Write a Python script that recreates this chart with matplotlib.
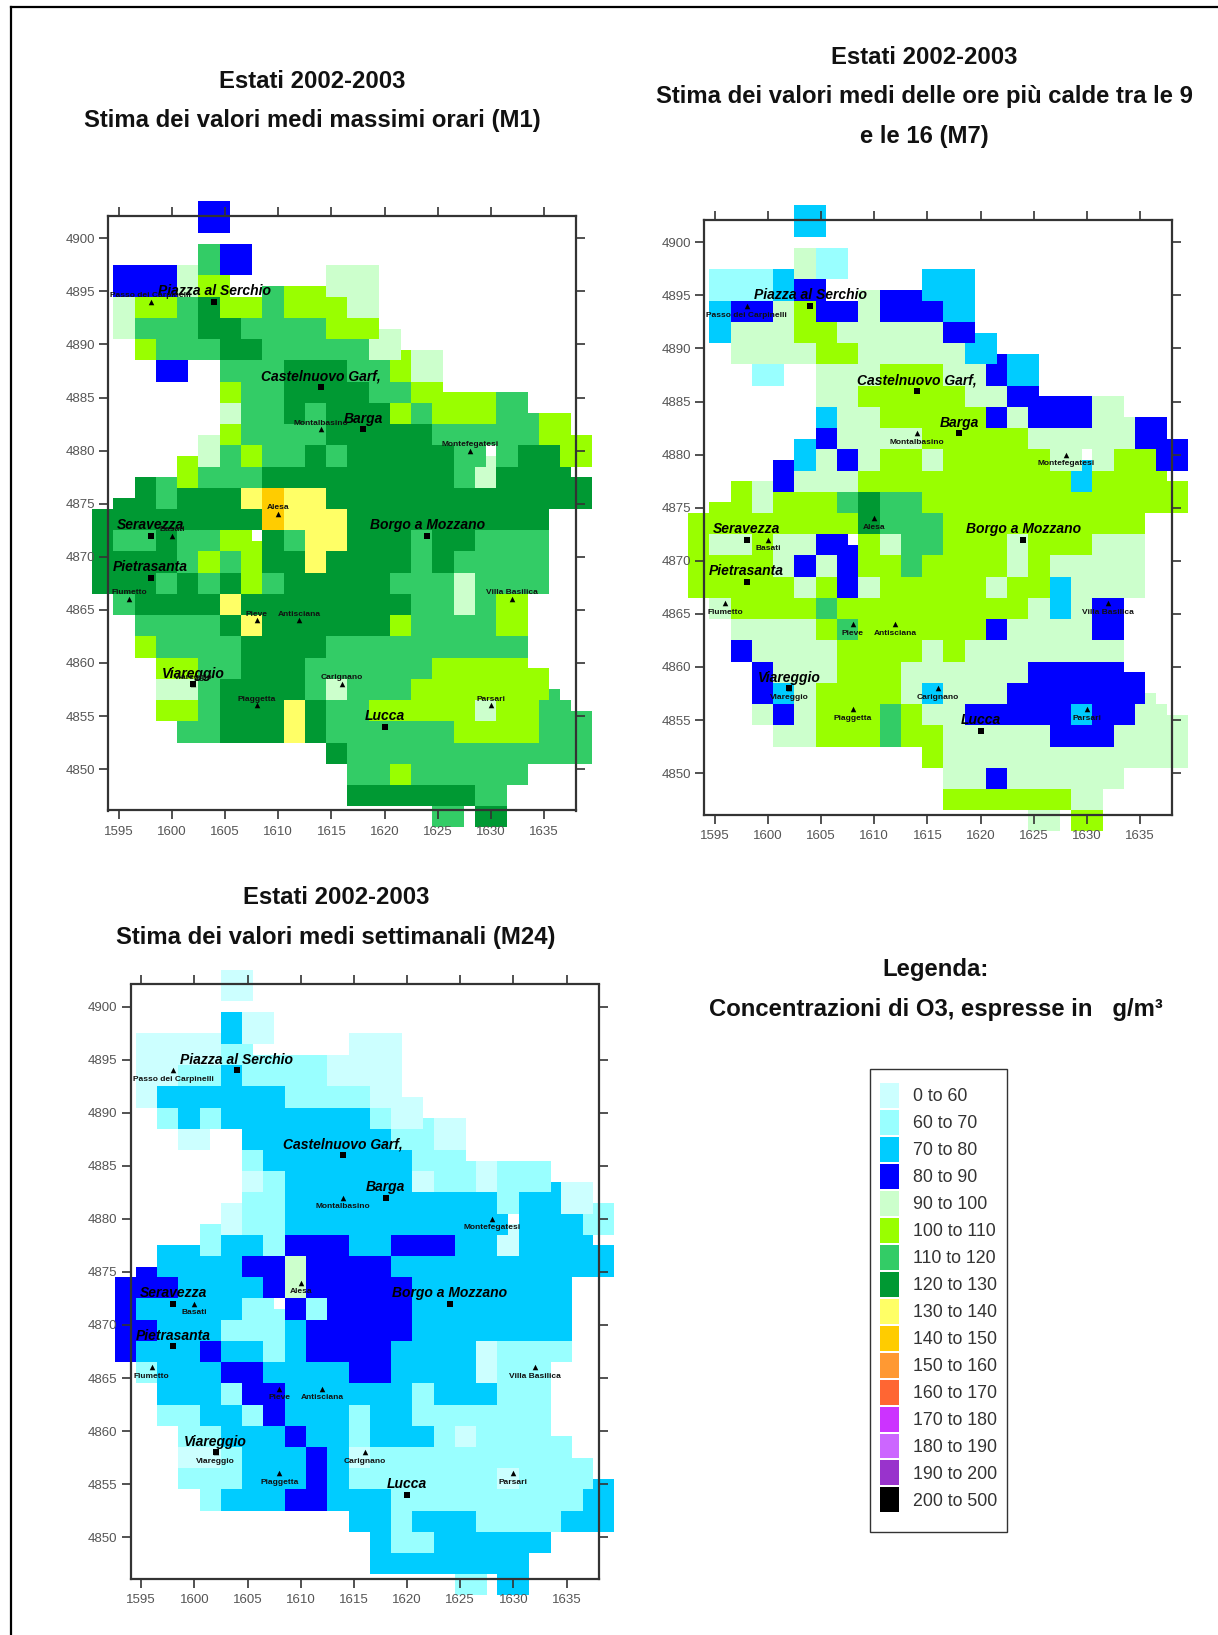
import numpy as np
import matplotlib
matplotlib.use("Agg")
import matplotlib.pyplot as plt
from matplotlib.colors import ListedColormap
from matplotlib.lines import Line2D
from matplotlib.patches import Patch, Rectangle

W, H = 1218, 1635

# legend classes, one letter per class in the band strings below
class_codes = "abcdefghijklmnop"
class_labels = ["0 to 60", "60 to 70", "70 to 80", "80 to 90", "90 to 100", "100 to 110",
                "110 to 120", "120 to 130", "130 to 140", "140 to 150", "150 to 160",
                "160 to 170", "170 to 180", "180 to 190", "190 to 200", "200 to 500"]
class_colors = ["#CCFFFF", "#99FFFF", "#00CCFF", "#0000FF", "#CCFFCC", "#99FF00",
                "#33CC66", "#009933", "#FFFF66", "#FFCC00", "#FF9933",
                "#FF6633", "#CC33FF", "#CC66FF", "#9933CC", "#000000"]

# bands: (north, south, "x0 class x1 class x2 ..."), "." = no data, edges sit on k+0.5 km
m1_bands = [
    (4903, 4900, "1602 d 1605"),
    (4899, 4897, "1602 g 1604 d 1607"),
    (4897, 4896, "1594 d 1600 e 1602 g 1604 d 1607 . 1614 e 1619"),
    (4896, 4895, "1594 d 1600 e 1602 f 1605 . 1614 e 1619"),
    (4895, 4894, "1594 d 1600 e 1602 f 1605 . 1608 g 1610 f 1614 e 1619"),
    (4894, 4892, "1594 e 1596 f 1600 g 1602 h 1604 f 1608 g 1610 f 1616 e 1619"),
    (4892, 4891, "1594 e 1596 g 1602 h 1606 g 1614 f 1619"),
    (4891, 4890, "1594 e 1596 g 1602 h 1606 g 1614 f 1619 e 1621"),
    (4890, 4889, "1596 f 1598 g 1604 h 1608 g 1618 e 1621"),
    (4889, 4888, "1596 f 1598 g 1604 h 1608 g 1618 e 1621 f 1622 e 1625"),
    (4888, 4886, "1598 d 1601 . 1604 g 1610 h 1616 g 1620 f 1622 e 1625"),
    (4886, 4885, "1604 f 1606 g 1610 h 1618 g 1622 f 1625"),
    (4885, 4884, "1604 f 1606 g 1610 h 1618 g 1622 f 1630 g 1633"),
    (4884, 4883, "1604 e 1606 g 1610 h 1612 g 1614 h 1620 f 1622 g 1624 f 1630 g 1633"),
    (4883, 4882, "1604 e 1606 g 1610 h 1612 g 1614 h 1620 f 1622 g 1624 f 1630 g 1634 f 1637"),
    (4882, 4881, "1604 f 1606 g 1614 h 1624 g 1634 f 1637"),
    (4881, 4880, "1602 e 1604 f 1606 g 1614 h 1624 g 1634 f 1639"),
    (4880, 4879, "1602 e 1604 g 1606 f 1608 g 1612 h 1614 g 1616 h 1626 g 1629 . 1630 g 1632 h 1636 f 1639"),
    (4879, 4878, "1600 f 1602 e 1604 g 1606 f 1608 g 1612 h 1614 g 1616 h 1626 g 1629 e 1630 g 1632 h 1636 f 1639"),
    (4878, 4877, "1600 f 1602 g 1608 h 1626 g 1628 e 1630 h 1637"),
    (4877, 4876, "1596 h 1598 g 1600 f 1602 g 1608 h 1626 g 1628 e 1630 h 1639"),
    (4876, 4875, "1596 h 1598 g 1600 h 1606 i 1608 j 1610 i 1614 h 1639"),
    (4875, 4874, "1594 h 1598 g 1600 h 1606 i 1608 j 1610 i 1614 h 1639"),
    (4874, 4872, "1592 h 1608 j 1610 i 1616 h 1635"),
    (4872, 4871, "1592 h 1594 g 1598 h 1600 g 1604 f 1607 . 1608 h 1610 g 1612 i 1616 h 1622 g 1624 h 1628 g 1635"),
    (4871, 4870, "1592 h 1594 g 1598 h 1600 g 1604 f 1608 h 1610 g 1612 i 1616 h 1622 g 1624 h 1628 g 1635"),
    (4870, 4868, "1592 h 1600 g 1602 f 1604 g 1606 f 1608 h 1612 i 1614 h 1622 g 1624 h 1626 g 1635"),
    (4868, 4866, "1592 h 1598 g 1600 h 1602 g 1604 h 1606 f 1608 g 1610 h 1620 g 1626 e 1628 g 1635"),
    (4866, 4864, "1594 g 1596 h 1604 i 1606 h 1622 g 1626 e 1628 g 1630 f 1633"),
    (4864, 4862, "1596 g 1604 h 1606 i 1608 h 1620 f 1622 g 1630 f 1633"),
    (4862, 4860, "1596 f 1598 g 1606 h 1614 g 1633"),
    (4860, 4859, "1598 f 1602 g 1606 h 1612 g 1624 f 1633"),
    (4859, 4858, "1598 f 1602 g 1606 h 1612 g 1624 f 1635"),
    (4858, 4857, "1598 e 1602 g 1604 h 1612 g 1614 e 1616 g 1622 f 1635"),
    (4857, 4856, "1598 e 1602 g 1604 h 1612 g 1614 e 1616 g 1622 f 1635 g 1636"),
    (4856, 4855, "1598 f 1602 g 1604 h 1610 i 1612 h 1614 g 1618 f 1628 e 1630 f 1634 g 1637"),
    (4855, 4854, "1598 f 1602 g 1604 h 1610 i 1612 h 1614 g 1618 f 1628 e 1630 f 1634 g 1639"),
    (4854, 4852, "1600 g 1604 h 1610 i 1612 h 1614 g 1626 f 1634 g 1639"),
    (4852, 4850, "1614 h 1616 g 1639"),
    (4850, 4848, "1616 g 1620 f 1622 g 1633"),
    (4848, 4846, "1616 h 1628 g 1631"),
    (4846, 4844, "1624 g 1627 . 1628 h 1631"),
]

m7_bands = [
    (4903, 4900, "1602 c 1605"),
    (4899, 4897, "1602 e 1604 b 1607"),
    (4897, 4896, "1594 b 1600 c 1602 e 1604 b 1607 . 1614 c 1619"),
    (4896, 4895, "1594 b 1600 c 1602 d 1605 . 1614 c 1619"),
    (4895, 4894, "1594 b 1600 c 1602 d 1605 . 1608 e 1610 d 1614 c 1619"),
    (4894, 4892, "1594 c 1596 d 1600 e 1602 f 1604 d 1608 e 1610 d 1616 c 1619"),
    (4892, 4891, "1594 c 1596 e 1602 f 1606 e 1616 d 1619"),
    (4891, 4890, "1594 c 1596 e 1602 f 1606 e 1616 d 1619 c 1621"),
    (4890, 4889, "1596 e 1604 f 1608 e 1618 c 1621"),
    (4889, 4888, "1596 e 1604 f 1608 e 1618 c 1621 d 1622 c 1625"),
    (4888, 4886, "1598 b 1601 . 1604 e 1610 f 1616 e 1620 d 1622 c 1625"),
    (4886, 4885, "1604 e 1608 f 1618 e 1622 d 1625"),
    (4885, 4884, "1604 e 1608 f 1618 e 1622 d 1630 e 1633"),
    (4884, 4883, "1604 c 1606 e 1610 f 1620 d 1622 e 1624 d 1630 e 1633"),
    (4883, 4882, "1604 c 1606 e 1610 f 1620 d 1622 e 1624 d 1630 e 1634 d 1637"),
    (4882, 4881, "1604 d 1606 e 1614 f 1624 e 1634 d 1637"),
    (4881, 4880, "1602 c 1604 d 1606 e 1614 f 1624 e 1634 d 1639"),
    (4880, 4879, "1602 c 1604 e 1606 d 1608 e 1610 f 1614 e 1616 f 1626 e 1629 . 1630 e 1632 f 1636 d 1639"),
    (4879, 4878, "1600 d 1602 c 1604 e 1606 d 1608 e 1610 f 1614 e 1616 f 1626 e 1629 c 1630 e 1632 f 1636 d 1639"),
    (4878, 4877, "1600 d 1602 e 1608 f 1628 c 1630 f 1637"),
    (4877, 4876, "1596 f 1598 e 1600 d 1602 e 1608 f 1628 c 1630 f 1639"),
    (4876, 4875, "1596 f 1598 e 1600 f 1606 g 1608 h 1610 g 1614 f 1639"),
    (4875, 4874, "1594 f 1598 e 1600 f 1606 g 1608 h 1610 g 1614 f 1639"),
    (4874, 4872, "1592 f 1608 h 1610 g 1616 f 1635"),
    (4872, 4871, "1592 f 1594 e 1598 f 1600 e 1604 d 1607 . 1608 f 1610 e 1612 g 1616 f 1622 e 1624 f 1630 e 1635"),
    (4871, 4870, "1592 f 1594 e 1598 f 1600 e 1604 d 1608 f 1610 e 1612 g 1616 f 1622 e 1624 f 1630 e 1635"),
    (4870, 4868, "1592 f 1600 e 1602 d 1604 e 1606 d 1608 f 1612 g 1614 f 1622 e 1624 f 1626 e 1635"),
    (4868, 4866, "1592 f 1602 e 1604 f 1606 d 1608 e 1610 f 1620 e 1622 f 1626 c 1628 e 1635"),
    (4866, 4864, "1594 e 1596 f 1604 g 1606 f 1624 e 1626 c 1628 e 1630 d 1633"),
    (4864, 4862, "1596 e 1604 f 1606 g 1608 f 1620 d 1622 e 1630 d 1633"),
    (4862, 4860, "1596 d 1598 e 1606 f 1614 e 1616 f 1618 e 1633"),
    (4860, 4859, "1598 d 1600 e 1606 f 1612 e 1624 d 1633"),
    (4859, 4858, "1598 d 1600 e 1606 f 1612 e 1624 d 1635"),
    (4858, 4857, "1598 d 1600 c 1602 e 1604 f 1612 e 1614 c 1616 e 1622 d 1635"),
    (4857, 4856, "1598 d 1600 c 1602 e 1604 f 1612 e 1614 c 1616 e 1622 d 1635 e 1636"),
    (4856, 4855, "1598 e 1600 d 1602 e 1604 f 1610 g 1612 f 1614 e 1618 d 1628 c 1630 d 1634 e 1637"),
    (4855, 4854, "1598 e 1600 d 1602 e 1604 f 1610 g 1612 f 1614 e 1618 d 1628 c 1630 d 1634 e 1639"),
    (4854, 4852, "1600 e 1604 f 1610 g 1612 f 1616 e 1626 d 1632 e 1639"),
    (4852, 4850, "1614 f 1616 e 1639"),
    (4850, 4848, "1616 e 1620 d 1622 e 1633"),
    (4848, 4846, "1616 f 1628 e 1631"),
    (4846, 4844, "1624 e 1627 . 1628 f 1631"),
]

m24_bands = [
    (4903, 4900, "1602 a 1605"),
    (4899, 4897, "1602 c 1604 a 1607"),
    (4897, 4896, "1594 a 1602 c 1604 a 1607 . 1614 a 1619"),
    (4896, 4895, "1594 a 1602 b 1605 . 1614 a 1619"),
    (4895, 4894, "1594 a 1602 b 1612 a 1619"),
    (4894, 4892, "1594 a 1598 b 1602 c 1604 b 1612 a 1619"),
    (4892, 4891, "1594 a 1596 c 1608 b 1616 a 1619"),
    (4891, 4890, "1594 a 1596 c 1608 b 1616 a 1621"),
    (4890, 4889, "1596 b 1598 c 1600 b 1602 c 1616 b 1618 a 1621"),
    (4889, 4888, "1596 b 1598 c 1600 b 1602 c 1616 b 1618 a 1621 b 1622 a 1625"),
    (4888, 4886, "1598 a 1601 . 1604 c 1618 b 1622 a 1625"),
    (4886, 4885, "1604 b 1606 c 1620 b 1625"),
    (4885, 4884, "1604 b 1606 c 1620 b 1626 a 1628 b 1633"),
    (4884, 4883, "1604 a 1606 b 1608 c 1620 a 1622 b 1626 a 1628 b 1633"),
    (4883, 4882, "1604 a 1606 b 1608 c 1620 a 1622 b 1626 a 1628 b 1633 c 1634 a 1637"),
    (4882, 4881, "1604 b 1608 c 1628 b 1630 c 1634 a 1637"),
    (4881, 4880, "1602 a 1604 b 1608 c 1628 b 1630 c 1634 a 1637 b 1639"),
    (4880, 4879, "1602 a 1604 b 1608 c 1629 . 1630 c 1636 b 1639"),
    (4879, 4878, "1600 b 1602 a 1604 b 1608 c 1629 a 1630 c 1636 b 1639"),
    (4878, 4877, "1600 b 1602 c 1606 b 1608 d 1614 c 1618 d 1624 c 1628 a 1630 c 1637"),
    (4877, 4876, "1596 c 1600 b 1602 c 1606 b 1608 d 1614 c 1618 d 1624 c 1628 a 1630 c 1639"),
    (4876, 4875, "1596 c 1604 d 1608 e 1610 d 1618 c 1639"),
    (4875, 4874, "1594 d 1596 c 1604 d 1608 e 1610 d 1618 c 1639"),
    (4874, 4872, "1592 d 1598 c 1606 d 1608 e 1610 d 1620 c 1635"),
    (4872, 4871, "1592 d 1594 c 1604 b 1607 . 1608 d 1610 b 1612 d 1620 c 1635"),
    (4871, 4870, "1592 d 1594 c 1604 b 1608 d 1610 b 1612 d 1620 c 1635"),
    (4870, 4868, "1592 d 1596 c 1602 b 1608 c 1610 d 1620 c 1635"),
    (4868, 4866, "1592 d 1594 c 1600 d 1602 c 1606 b 1608 c 1610 d 1618 c 1626 a 1628 b 1635"),
    (4866, 4864, "1594 b 1596 c 1602 d 1606 c 1614 d 1618 c 1626 a 1628 b 1633"),
    (4864, 4862, "1596 c 1602 b 1604 d 1608 c 1620 b 1622 c 1628 b 1633"),
    (4862, 4860, "1596 b 1600 c 1604 b 1606 d 1608 c 1614 b 1616 c 1620 b 1633"),
    (4860, 4859, "1598 b 1602 c 1608 d 1610 c 1614 b 1616 c 1622 b 1624 a 1626 b 1633"),
    (4859, 4858, "1598 b 1602 c 1608 d 1610 c 1614 b 1616 c 1622 b 1624 a 1626 b 1635"),
    (4858, 4857, "1598 a 1602 b 1604 c 1610 d 1612 c 1614 a 1616 b 1635"),
    (4857, 4856, "1598 a 1602 b 1604 c 1610 d 1612 c 1614 a 1616 b 1637"),
    (4856, 4855, "1598 b 1604 c 1610 d 1612 c 1614 b 1628 a 1630 b 1637"),
    (4855, 4854, "1598 b 1604 c 1610 d 1612 c 1614 b 1628 a 1630 b 1637 c 1639"),
    (4854, 4852, "1600 b 1602 c 1608 d 1612 c 1618 b 1636 c 1639"),
    (4852, 4850, "1614 c 1618 b 1620 c 1626 b 1634 c 1639"),
    (4850, 4848, "1616 c 1618 b 1622 c 1633"),
    (4848, 4846, "1616 c 1631"),
    (4846, 4844, "1624 b 1627 . 1628 c 1631"),
]

# towns
big_towns = ["Piazza al Serchio", "Castelnuovo Garf,", "Barga", "Borgo a Mozzano",
             "Seravezza", "Pietrasanta", "Viareggio", "Lucca"]
big_x = [1604, 1614, 1618, 1624, 1598, 1598, 1602, 1620]
big_y = [4894, 4886, 4882, 4872, 4872, 4868, 4858, 4854]

small_towns = ["Passo dei Carpinelli", "Montalbasino", "Montefegatesi", "Alesa", "Basati",
               "Fiumetto", "Pieve", "Antisciana", "Villa Basilica", "Viareggio",
               "Piaggetta", "Carignano", "Parsari"]
small_x = [1598, 1614, 1628, 1610, 1600, 1596, 1608, 1612, 1632, 1602, 1608, 1616, 1630]
small_y = [4894, 4882, 4880, 4874, 4872, 4866, 4864, 4864, 4866, 4858, 4856, 4858, 4856]

x_ticks = [1595, 1600, 1605, 1610, 1615, 1620, 1625, 1630, 1635]
y_ticks = [4850, 4855, 4860, 4865, 4870, 4875, 4880, 4885, 4890, 4895, 4900]

x_edges = np.arange(1592, 1640) + 0.5
y_edges = np.arange(4844, 4904) + 0.5


def bands_to_grid(bands):
    grid = np.full((len(y_edges) - 1, len(x_edges) - 1), np.nan)
    for north, south, runs in bands:
        parts = runs.split()
        for i in range(0, len(parts) - 2, 2):
            if parts[i + 1] == ".":
                continue
            x0, x1 = int(parts[i]), int(parts[i + 2])
            grid[south - 4844:north - 4844, x0 - 1592:x1 - 1592] = class_codes.index(parts[i + 1])
    return np.ma.masked_invalid(grid)


def fig_text(px, py, s, **kw):
    fig.text(px / W, 1 - py / H, s, ha="center", va="center", **kw)


def draw_map(left, right, top, bottom, bands, small_below):
    ax = fig.add_axes([left / W, 1 - bottom / H, (right - left) / W, (bottom - top) / H])
    ax.pcolormesh(x_edges, y_edges, bands_to_grid(bands), cmap=cmap, vmin=-0.5, vmax=15.5,
                  clip_on=False, zorder=1)
    ax.set_xlim(1594, 1638)
    ax.set_ylim(4846.1, 4902.1)
    ax.set_xticks(x_ticks)
    ax.set_yticks(y_ticks)
    ax.tick_params(top=True, right=True, length=6.5, width=1.2, color="#333333", labelcolor="#555555",
                   labelsize=9.5, pad=3)
    ax.tick_params(axis="x", pad=5)
    for s in ax.spines.values():
        s.set_linewidth(1.6)
        s.set_color("#333333")
        s.set_zorder(3)

    ax.scatter(big_x, big_y, marker="s", s=18, color="black", zorder=4, linewidths=0, clip_on=False)
    ax.scatter(small_x, small_y, marker="^", s=16, color="black", zorder=4, linewidths=0, clip_on=False)
    for name, x, y in zip(big_towns, big_x, big_y):
        ax.text(x, y + 1.0, name, fontsize=10, fontweight="bold", fontstyle="italic",
                ha="center", va="center", zorder=5, clip_on=False)
    dy = -0.85 if small_below else 0.6
    for name, x, y in zip(small_towns, small_x, small_y):
        ax.text(x, y + dy, name, fontsize=6, fontweight="bold", color="#111111",
                ha="center", va="center", zorder=5, clip_on=False)
    return ax


plt.rcParams["font.family"] = ["Liberation Sans", "DejaVu Sans"]
cmap = ListedColormap(class_colors)
fig = plt.figure(figsize=(W / 100, H / 100), dpi=100, facecolor="white")

draw_map(108, 576, 216, 810.5, m1_bands, False)
draw_map(704, 1172, 220, 814.5, m7_bands, True)
draw_map(130.5, 598.5, 984.5, 1578.5, m24_bands, True)

title_kw = dict(fontsize=17.2, fontweight="bold", color="#111111")
fig_text(312, 81, "Estati 2002-2003", **title_kw)
fig_text(312, 121, "Stima dei valori medi massimi orari (M1)", **title_kw)
fig_text(924, 57, "Estati 2002-2003", **title_kw)
fig_text(924, 97, "Stima dei valori medi delle ore più calde tra le 9", **title_kw)
fig_text(924, 137, "e le 16 (M7)", **title_kw)
fig_text(336, 897, "Estati 2002-2003", **title_kw)
fig_text(336, 937, "Stima dei valori medi settimanali (M24)", **title_kw)
fig_text(936, 969, "Legenda:", **title_kw)
fig_text(936, 1009, "Concentrazioni di O3, espresse in   g/m³", **title_kw)

# legend: box drawn apart so it can be taller than the rows need
fig.add_artist(Rectangle((870 / W, 1 - 1532 / H), 136.5 / W, 463 / H, transform=fig.transFigure,
                         facecolor="white", edgecolor="#333333", lw=1.0))
handles = [Patch(facecolor=c, edgecolor="none", label=l) for c, l in zip(class_colors, class_labels)]
leg = fig.legend(handles=handles, loc="upper left", bbox_to_anchor=(879.5 / W, 1 - 1083 / H),
                 bbox_transform=fig.transFigure, fontsize=12.8, frameon=False, borderpad=0,
                 borderaxespad=0, handlelength=1.12, handleheight=1.784, handletextpad=0.76,
                 labelspacing=0.112, labelcolor="#333333")

# page border, top and left only
fig.add_artist(Line2D([11 / W, 11 / W], [0, 1 - 7 / H], color="black", lw=1.6))
fig.add_artist(Line2D([11 / W, 1], [1 - 7 / H, 1 - 7 / H], color="black", lw=1.6))

fig.savefig("out.png", dpi=100)
